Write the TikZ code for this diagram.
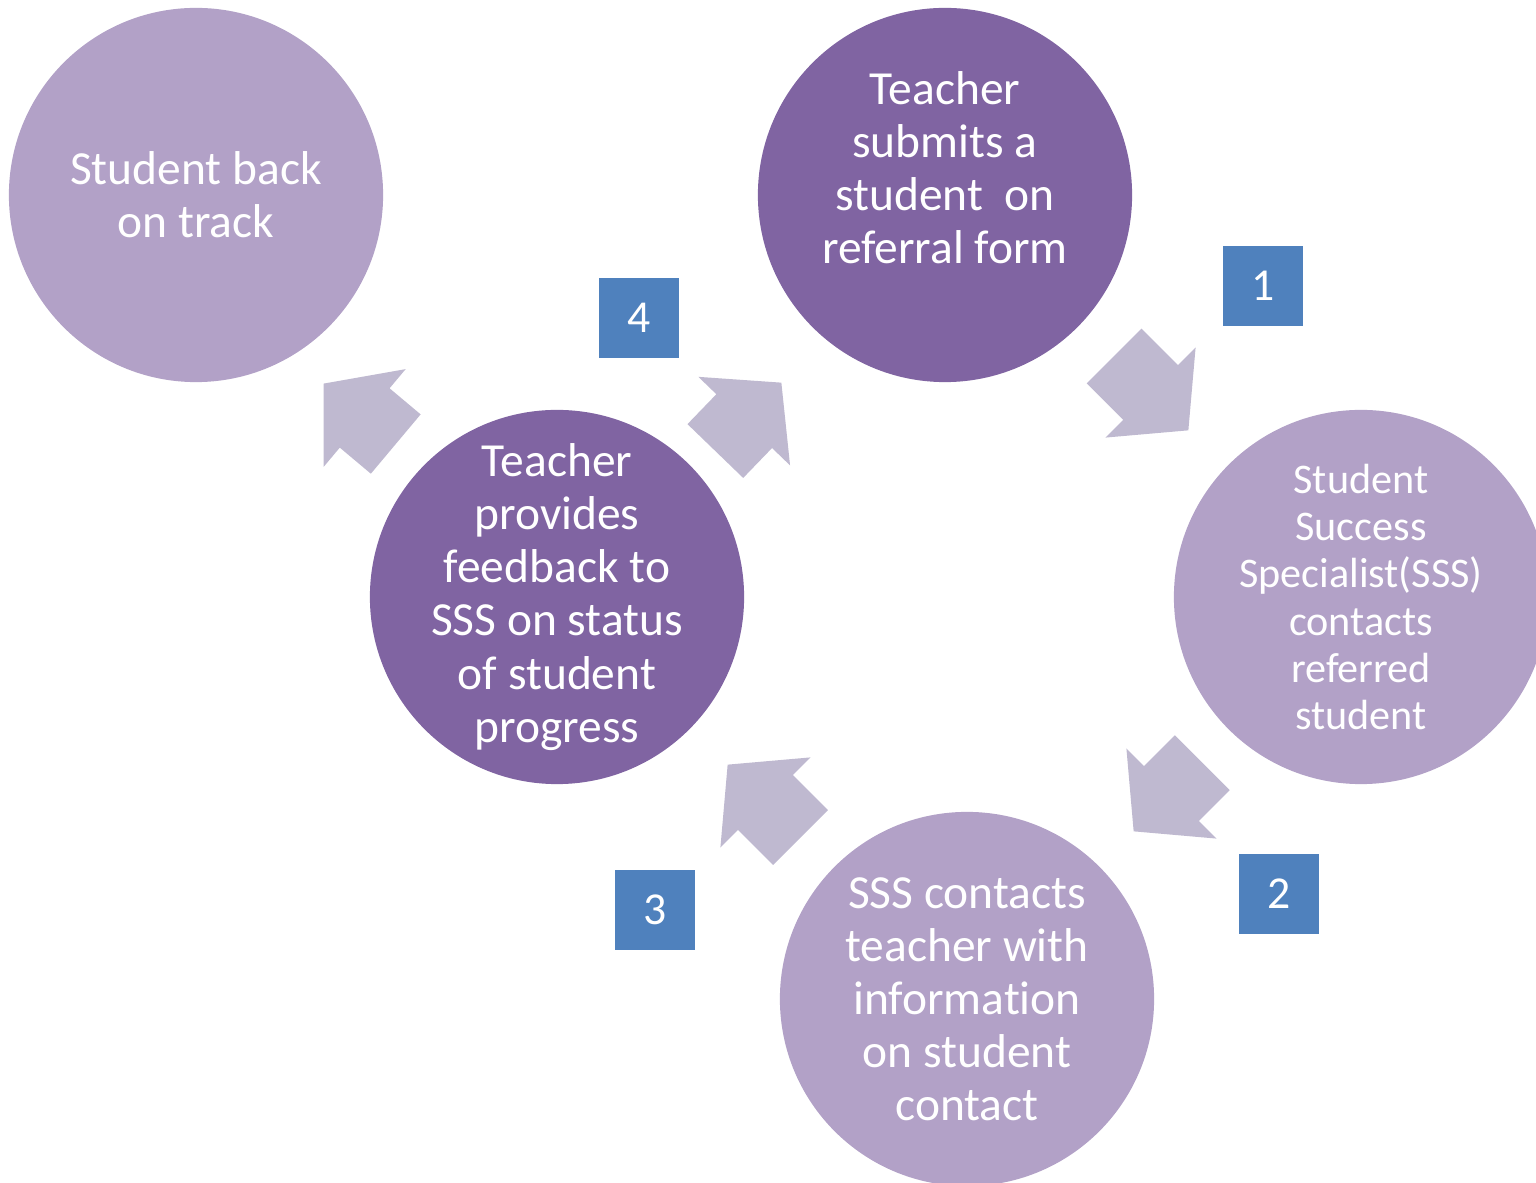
\documentclass[tikz,border=0pt]{standalone}
\usepackage{fontspec}
\setmainfont{Carlito}[Ligatures=NoCommon]
\usepackage{tikz}
\usetikzlibrary{shapes.arrows, positioning}
\definecolor{darkplum}{RGB}{128,100,162}
\definecolor{lightplum}{RGB}{178,161,199}
\definecolor{arrowgrey}{RGB}{191,185,208}
\definecolor{stepblue}{RGB}{79,129,189}

\begin{document}
\begin{tikzpicture}[
            x=0.01cm, y=-0.01cm,
            bubble/.style={circle, draw=none, minimum size=3.74cm, inner sep=0pt},
            darkbubble/.style={bubble, fill=darkplum},
            lightbubble/.style={bubble, fill=lightplum},
            bubbletext/.style={text=white, align=center, font=\fontsize{13.5}{15.1}\selectfont},
            smalltext/.style={text=white, align=center, font=\fontsize{12}{13.4}\selectfont},
            blockarrow/.style={single arrow, fill=arrowgrey, draw=none, inner xsep=0pt, inner ysep=0.38cm, minimum height=1.05cm, single arrow head extend=0.25cm, single arrow tip angle=100, anchor=tip},
            numbox/.style={rectangle, fill=stepblue, minimum size=0.8cm, inner sep=0pt, text=white, font=\fontsize{13}{15}\selectfont}
        ]
            \useasboundingbox (0,0) rectangle (1536,1183);

            \node[lightbubble, label={[bubbletext]center:{Student back\\on track}}] (back) at (196,195) {};
            \node[darkbubble, label={[bubbletext, yshift=0.27cm]center:{Teacher\\submits a\\student\ \ on\\referral form}}] (submit) at (945,195) {};
            \node[lightbubble, label={[smalltext]center:{Student\\Success\\Specialist(SSS)\\contacts\\referred\\student}}] (contact) at (1361,597) {};
            \node[lightbubble, label={[bubbletext]center:{SSS contacts\\teacher with\\information\\on student\\contact}}] (inform) at (967,999) {};
            \node[darkbubble, label={[bubbletext]center:{Teacher\\provides\\feedback to\\SSS on status\\of student\\progress}}] (feedback) at (557,597) {};

            \node[blockarrow, rotate=-45] (arr1) at (1189,431) {};
            \node[blockarrow, rotate=-135, minimum height=0.97cm] (arr2) at (1133,832) {};
            \node[blockarrow, rotate=135, minimum height=1.03cm] (arr3) at (727,764) {};
            \node[blockarrow, rotate=46, minimum height=0.95cm] (arr4) at (782,382) {};
            \node[blockarrow, rotate=140, minimum height=0.94cm] (arrback) at (323,383) {};

            \node[numbox] (num1) at (1263,286) {1};
            \node[numbox] (num2) at (1279,894) {2};
            \node[numbox] (num3) at (655,910) {3};
            \node[numbox] (num4) at (639,318) {4};
        \end{tikzpicture}
\end{document}
